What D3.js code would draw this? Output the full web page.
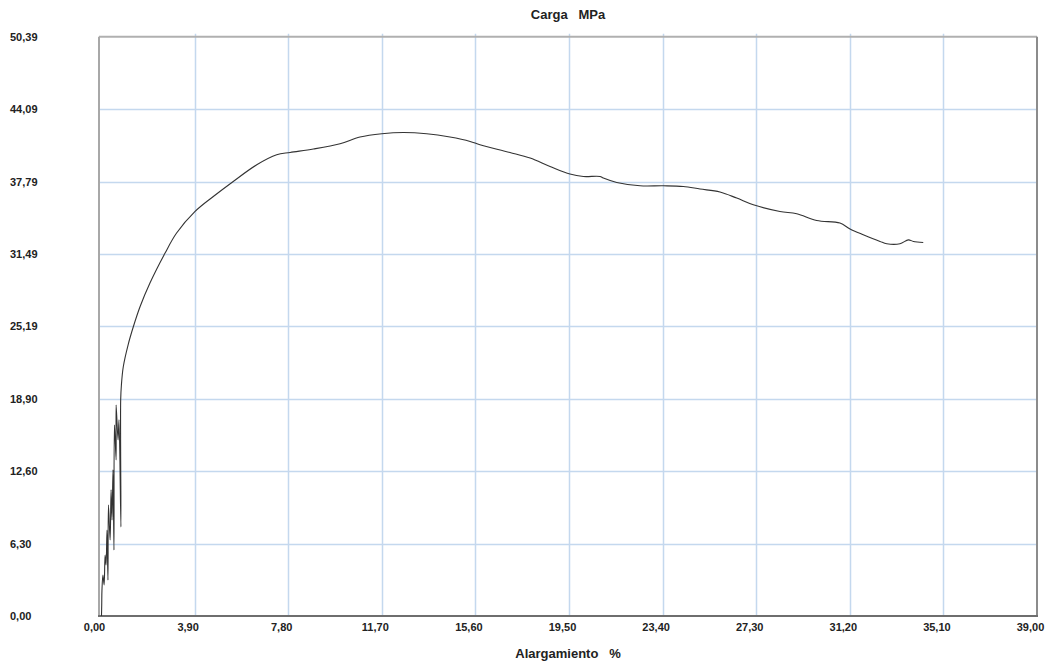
<!DOCTYPE html>
<html>
<head>
<meta charset="utf-8">
<script src="https://cdn.jsdelivr.net/npm/d3@7"></script>
<style>
  body { margin: 0; background: #fff; }
  svg { display: block; }
  text { font-family: "Liberation Sans", Arial, sans-serif; font-weight: bold; fill: #222; }
  .domain { display: none; }
</style>
</head>
<body>
<div id="chart"></div>
<script>
// tick labels as printed on the chart
var xTickLabels = ["0,00", "3,90", "7,80", "11,70", "15,60", "19,50", "23,40", "27,30", "31,20", "35,10", "39,00"];
var yTickLabels = ["0,00", "6,30", "12,60", "18,90", "25,19", "31,49", "37,79", "44,09", "50,39"];

// elongation (%)
var elongation = [0.02, 0.03, 0.04, 0.08, 0.13, 0.17, 0.21, 0.25, 0.29, 0.31, 0.38, 0.42, 0.46, 0.50,
  0.54, 0.56, 0.63, 0.63, 0.71, 0.75, 0.83, 0.82, 0.85,
  0.93, 1.13, 1.35, 1.63, 2.04, 2.67, 3.15, 3.92, 4.68, 5.51, 6.49, 7.32, 7.88, 8.85, 9.96,
  10.79, 11.70, 12.60, 13.57, 14.54, 15.38, 15.79, 17.04, 17.88, 18.71, 19.54, 20.10, 20.79,
  20.93, 21.49, 22.46, 23.43, 24.26, 24.96, 25.79, 26.49, 27.18, 28.29, 28.99, 29.82, 30.79,
  31.21, 31.76, 32.46, 32.74, 33.29, 33.64, 33.85, 34.26];

// load (MPa)
var load = [0, 0.96, 2.26, 3.57, 2.70, 5.31, 4.44, 7.48, 3.13, 9.66, 6.61, 10.97, 8.36, 12.71,
  5.74, 16.62, 13.58, 18.36, 15.32, 17.06, 7.75, 18.80, 20.10,
  21.70, 23.59, 25.18, 26.92, 28.96, 31.57, 33.31, 35.19, 36.49, 37.80, 39.25, 40.12, 40.32,
  40.62, 41.08, 41.66, 41.95, 42.06, 41.95, 41.66, 41.28, 40.99, 40.32, 39.83, 39.10, 38.44,
  38.23, 38.23, 38.09, 37.71, 37.42, 37.42, 37.36, 37.14, 36.88, 36.35, 35.77, 35.19, 34.99,
  34.40, 34.18, 33.66, 33.16, 32.58, 32.38, 32.38, 32.72, 32.58, 32.49];

var svgWidth = 1048;
var svgHeight = 661;

// plot box (note: "top" is taken by window.top, so prefix these)
var plotLeft = 101, plotRight = 1037, plotTop = 36.7, plotBottom = 616;
var frameLeft = 99;

var toNum = function(s) { return +s.replace(",", "."); };
var xTicks = xTickLabels.map(toNum);
var yTicks = yTickLabels.map(toNum);

var svg = d3.select("#chart")
  .append("svg")
  .attr("width", svgWidth)
  .attr("height", svgHeight);

var x = d3.scaleLinear().domain([0, 39]).range([plotLeft, plotRight]);
var y = d3.scaleLinear().domain([0, 50.39]).range([plotBottom, plotTop]);

// grid lines
svg.append("g")
  .selectAll("line")
  .data(xTicks.slice(1, -1))
  .enter()
  .append("line")
  .attr("x1", d => Math.round(x(d)) + 0.5)
  .attr("x2", d => Math.round(x(d)) + 0.5)
  .attr("y1", plotTop - 3)
  .attr("y2", plotBottom)
  .attr("stroke", "#c4d8ee")
  .attr("stroke-width", 1.5);

svg.append("g")
  .selectAll("line")
  .data(yTicks.slice(1, -1))
  .enter()
  .append("line")
  .attr("x1", frameLeft)
  .attr("x2", plotRight)
  .attr("y1", d => Math.round(y(d)) + 0.5)
  .attr("y2", d => Math.round(y(d)) + 0.5)
  .attr("stroke", "#c4d8ee")
  .attr("stroke-width", 1.5);

// frame
svg.append("line").attr("x1", frameLeft).attr("x2", plotRight).attr("y1", plotTop).attr("y2", plotTop)
  .attr("stroke", "#b0b0b0").attr("stroke-width", 2);
svg.append("line").attr("x1", plotRight).attr("x2", plotRight).attr("y1", plotTop).attr("y2", plotBottom)
  .attr("stroke", "#8c8c8c").attr("stroke-width", 2);
svg.append("line").attr("x1", frameLeft).attr("x2", frameLeft).attr("y1", plotTop).attr("y2", plotBottom)
  .attr("stroke", "#a8a8a8").attr("stroke-width", 2);
svg.append("line").attr("x1", frameLeft - 1).attr("x2", plotRight + 1).attr("y1", plotBottom).attr("y2", plotBottom)
  .attr("stroke", "#6e6e6e").attr("stroke-width", 2);

// x axis labels
var xAxis = d3.axisBottom(x)
  .tickValues(xTicks)
  .tickSize(0)
  .tickFormat((d, i) => xTickLabels[i]);

svg.append("g")
  .attr("transform", `translate(0, ${plotBottom})`)
  .call(xAxis)
  .selectAll("text")
  .attr("font-size", "11px")
  .attr("dx", "-7")
  .attr("y", 7)
  .attr("dy", "0.71em")
  .style("font-family", "'Liberation Sans', Arial, sans-serif")
  .style("font-weight", "bold")
  .attr("fill", "#222");

// y axis labels, left aligned at the page edge
var yAxis = d3.axisLeft(y)
  .tickValues(yTicks)
  .tickSize(0)
  .tickFormat((d, i) => yTickLabels[i]);

var yAxisG = svg.append("g")
  .attr("transform", "translate(10, 0)")
  .call(yAxis);

yAxisG.selectAll("text")
  .attr("x", 0)
  .attr("text-anchor", "start")
  .attr("font-size", "11px")
  .style("font-family", "'Liberation Sans', Arial, sans-serif")
  .style("font-weight", "bold")
  .attr("fill", "#222");

// titles
svg.append("text")
  .attr("x", (frameLeft + plotRight) / 2)
  .attr("y", 19)
  .attr("text-anchor", "middle")
  .attr("font-size", "13px")
  .style("white-space", "pre")
  .text("Carga   MPa");

svg.append("text")
  .attr("x", (frameLeft + plotRight) / 2)
  .attr("y", 658)
  .attr("text-anchor", "middle")
  .attr("font-size", "13px")
  .style("white-space", "pre")
  .text("Alargamiento   %");

// curve
var points = elongation.map((e, i) => [e, load[i]]);

var line = d3.line()
  .x(d => x(d[0]))
  .y(d => y(d[1]))
  .curve(d3.curveCatmullRom.alpha(0.5));

svg.append("path")
  .datum(points)
  .attr("d", line)
  .attr("fill", "none")
  .attr("stroke", "#333")
  .attr("stroke-width", 1.1);
</script>
</body>
</html>
